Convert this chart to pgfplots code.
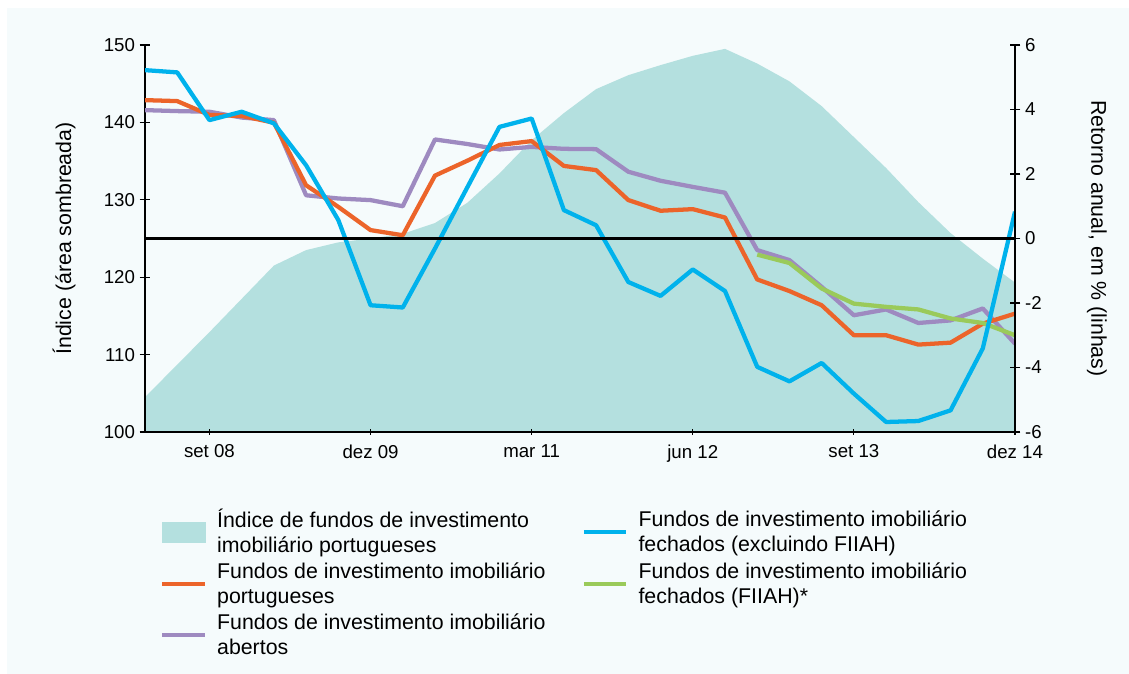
\documentclass[border=0pt]{standalone}
\usepackage{fontspec}
\setmainfont{Liberation Sans}
\usepackage{pgfplots}
\pgfplotsset{compat=1.18}

\definecolor{panel}{RGB}{245,251,252}
\definecolor{areac}{RGB}{180,224,223}
\definecolor{cblue}{RGB}{0,178,236}
\definecolor{corange}{RGB}{236,100,42}
\definecolor{cpurple}{RGB}{158,138,192}
\definecolor{cgreen}{RGB}{154,202,90}

% quarters: 0 = mar 08 ... 27 = dez 14
\pgfplotsset{
  common/.style={
    at={(108.75pt,181.5pt)}, anchor=south west,
    scale only axis, width=652.5pt, height=290.25pt,
    xmin=0, xmax=27,
    axis line style={line width=2.2pt, black},
    x axis line style={-}, y axis line style={-},
    tick align=outside, major tick length=8pt,
    tick style={black, line width=0.8pt},
    tick label style={font=\fontsize{14}{16}\selectfont},
    /pgf/number format/assume math mode=true,
    axis on top,
  },
}

\begin{document}
\begin{tikzpicture}
\useasboundingbox (0,0) rectangle (846.75pt,505.5pt);
\fill[panel] (5.25pt,0pt) rectangle (846.75pt,499.5pt);

\begin{axis}[common,
    ymin=100, ymax=150,
    axis x line=bottom, axis y line=left,
    x axis line style={-}, y axis line style={-},
    xtick={2,7,12,17,22,27},
    xticklabels={set 08, dez 09, mar 11, jun 12, set 13, dez 14},
    xtick style={/pgfplots/major tick length=4pt},
    xticklabel style={yshift=-2pt},
    ytick={100,110,...,150},
    ylabel={Índice (área sombreada)},
    every axis y label/.style={at={(axis description cs:-0.093,0.5)}, rotate=90,
      anchor=center, font=\fontsize{16}{19}\selectfont},
  ]
  \addplot[fill=areac, draw=none] coordinates {
    (0,104.5) (1,108.7) (2,112.9) (3,117.2) (4,121.5) (5,123.5) (6,124.5)
    (7,125.0) (8,125.6) (9,127.0) (10,129.6) (11,133.4) (12,137.7) (13,141.2)
    (14,144.3) (15,146.1) (16,147.4) (17,148.6) (18,149.5) (19,147.6) (20,145.3)
    (21,142.1) (22,138.1) (23,134.1) (24,129.7) (25,125.7) (26,122.4) (27,119.3)
  } \closedcycle;
\end{axis}

\begin{axis}[common,
    ymin=-6, ymax=6,
    axis x line=none, axis y line=right,
    x axis line style={-}, y axis line style={-},
    ytick={-6,-4,-2,0,2,4,6},
    yticklabels={-6,-4,-2,0,2,4,6},
    ylabel={Retorno anual, em \% (linhas)},
    every axis y label/.style={at={(axis description cs:1.094,0.5)}, rotate=-90,
      anchor=center, font=\fontsize{16}{19}\selectfont},
    legend columns=2,
    legend cell align=left,
    legend style={at={(axis description cs:0.0172,-0.199)}, anchor=north west,
      draw=none, fill=none, inner sep=0pt,
      font=\fontsize{16}{18.75}\selectfont,
      row sep=6pt,
      nodes={align=left, inner xsep=0pt, inner ysep=0pt},
      /tikz/every odd column/.append style={column sep=7.5pt},
      /tikz/every even column/.append style={column sep=27pt}},
  ]
  \addlegendimage{legend image code/.code={\fill[areac] (0pt,-7.5pt) rectangle (32pt,7.5pt);}}
  \addlegendentry{Índice de fundos de investimento\\imobiliário portugueses}
  \addlegendimage{legend image code/.code={\draw[cblue, line width=3.2pt] (0pt,0pt) -- (32pt,0pt);}}
  \addlegendentry{Fundos de investimento imobiliário\\fechados (excluindo FIIAH)}
  \addlegendimage{legend image code/.code={\draw[corange, line width=3.2pt] (0pt,0pt) -- (32pt,0pt);}}
  \addlegendentry{Fundos de investimento imobiliário\\portugueses}
  \addlegendimage{legend image code/.code={\draw[cgreen, line width=3.2pt] (0pt,0pt) -- (32pt,0pt);}}
  \addlegendentry{Fundos de investimento imobiliário\\fechados (FIIAH)*}
  \addlegendimage{legend image code/.code={\draw[cpurple, line width=3.2pt] (0pt,0pt) -- (32pt,0pt);}}
  \addlegendentry{Fundos de investimento imobiliário\\abertos}

  % abertos
  \addplot[cpurple, line width=3.2pt, line join=round, forget plot] coordinates {
    (0,3.98) (1,3.95) (2,3.93) (3,3.75) (4,3.67) (5,1.34) (6,1.24) (7,1.19)
    (8,1.00) (9,3.07) (10,2.93) (11,2.76) (12,2.84) (13,2.78) (14,2.77) (15,2.07)
    (16,1.79) (17,1.60) (18,1.42) (19,-0.36) (20,-0.67) (21,-1.50) (22,-2.38)
    (23,-2.20) (24,-2.62) (25,-2.54) (26,-2.17) (27,-3.26)
  };
  % portugueses
  \addplot[corange, line width=3.2pt, line join=round, forget plot] coordinates {
    (0,4.29) (1,4.26) (2,3.83) (3,3.80) (4,3.59) (5,1.65) (6,0.98) (7,0.26)
    (8,0.10) (9,1.95) (10,2.41) (11,2.90) (12,3.02) (13,2.25) (14,2.12) (15,1.19)
    (16,0.86) (17,0.91) (18,0.65) (19,-1.27) (20,-1.63) (21,-2.07) (22,-3.00)
    (23,-3.00) (24,-3.29) (25,-3.23) (26,-2.64) (27,-2.33)
  };
  % fechados (FIIAH)
  \addplot[cgreen, line width=3.2pt, line join=round, forget plot] coordinates {
    (19,-0.50) (20,-0.76) (21,-1.55) (22,-2.02) (23,-2.12) (24,-2.20)
    (25,-2.48) (26,-2.62) (27,-3.00)
  };
  % fechados (excluindo FIIAH)
  \addplot[cblue, line width=3.2pt, line join=round, forget plot] coordinates {
    (0,5.22) (1,5.15) (2,3.67) (3,3.93) (4,3.57) (5,2.27) (6,0.57) (7,-2.07)
    (8,-2.14) (9,-0.31) (10,1.58) (11,3.46) (12,3.72) (13,0.88) (14,0.41) (15,-1.35)
    (16,-1.78) (17,-0.96) (18,-1.63) (19,-3.98) (20,-4.43) (21,-3.86) (22,-4.81)
    (23,-5.69) (24,-5.66) (25,-5.33) (26,-3.41) (27,0.83)
  };
  % linha do zero
  \addplot[black, line width=2.2pt, forget plot] coordinates {(0,0) (27,0)};
\end{axis}
\end{tikzpicture}
\end{document}
